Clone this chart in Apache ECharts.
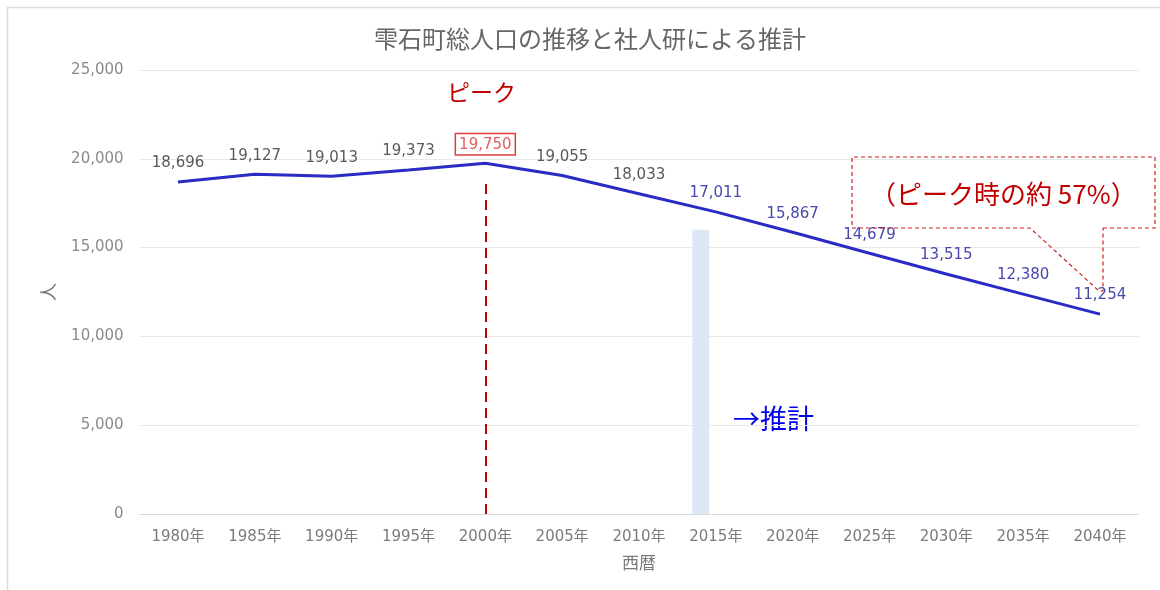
<!DOCTYPE html>
<html>
<head>
<meta charset="utf-8">
<script src="https://cdn.jsdelivr.net/npm/echarts@6/dist/echarts.min.js"></script>
<style>
html,body{margin:0;padding:0;background:#fff;}
#chart{width:1160px;height:590px;}
</style>
</head>
<body>
<div id="chart"></div>
<script>
// ---- data ----
const categories = ['1980年','1985年','1990年','1995年','2000年','2005年','2010年','2015年','2020年','2025年','2030年','2035年','2040年'];
const population = [18696, 19127, 19013, 19373, 19750, 19055, 18033, 17011, 15867, 14679, 13515, 12380, 11254];
const projectionBar = [null, null, null, null, null, null, null, 16000, null, null, null, null, null];
const peakIndex = 4;
const peakLineTop = 18700;
const projectionStart = 7;
const yTicks = { min: 0, max: 25000, interval: 5000 };

const titleText = '雫石町総人口の推移と社人研による推計';
const peakText = 'ピーク';
const projText = '→推計';
const ratioText = '（ピーク時の約 57%）';

const numFont = "'DejaVu Sans', 'Noto Sans CJK JP', sans-serif";
const jpFont = "'Noto Sans CJK JP', sans-serif";

const lineData = population.map((v, i) => {
  const item = { value: v };
  if (i === peakIndex) {
    item.label = {
      color: '#e06060', borderColor: '#e03c3c', borderWidth: 1.5,
      backgroundColor: '#fff', padding: [3, 3, 2, 3], distance: 9
    };
  } else if (i >= projectionStart) {
    item.label = { color: '#4848b0' };
  }
  return item;
});

const chart = echarts.init(document.getElementById('chart'));
chart.setOption({
  animation: false,
  backgroundColor: '#ffffff',
  title: {
    text: titleText, left: 585, top: 22, textAlign: 'center',
    textStyle: { fontFamily: jpFont, fontSize: 24, fontWeight: 'normal', color: '#666666' }
  },
  grid: { left: 139.6, right: 21.6, top: 70, bottom: 76 },
  xAxis: {
    type: 'category', data: categories, boundaryGap: true,
    name: '西暦', nameLocation: 'middle', nameGap: 40,
    nameTextStyle: { fontFamily: jpFont, fontSize: 17, color: '#7a7a7a' },
    axisLine: { lineStyle: { color: '#d9d9d9', width: 1 } },
    axisTick: { show: false },
    axisLabel: { fontFamily: numFont, fontSize: 15, color: '#7a7a7a', margin: 16, interval: 0 }
  },
  yAxis: {
    type: 'value', min: yTicks.min, max: yTicks.max, interval: yTicks.interval,
    name: '人', nameLocation: 'middle', nameGap: 82,
    nameTextStyle: { fontFamily: jpFont, fontSize: 18, color: '#7a7a7a' },
    axisLine: { show: false }, axisTick: { show: false },
    splitLine: { lineStyle: { color: '#e8e8e8', width: 1 } },
    axisLabel: {
      fontFamily: numFont, fontSize: 15, color: '#8a8a8a', margin: 16,
      formatter: v => v.toLocaleString('en-US')
    }
  },
  series: [
    {
      type: 'bar', data: projectionBar, barWidth: 17, barGap: '78%',
      itemStyle: { color: '#dce8f5' }, silent: true, z: 1
    },
    {
      type: 'bar', data: categories.map(() => null), barWidth: 17, silent: true
    },
    {
      type: 'line', data: lineData, symbol: 'circle', symbolSize: 0.1,
      lineStyle: { color: '#2a2ac4', width: 3 },
      itemStyle: { color: '#2a2ac4' },
      z: 5,
      label: {
        show: true, position: 'top', distance: 11,
        fontFamily: numFont, fontSize: 15, color: '#595959',
        formatter: p => p.value.toLocaleString('en-US')
      },
      markLine: {
        silent: true, symbol: 'none', label: { show: false },
        lineStyle: { color: '#c00000', width: 2, type: [10, 6] },
        data: [[
          { coord: [categories[peakIndex], 0] },
          { coord: [categories[peakIndex], peakLineTop] }
        ]]
      }
    }
  ],
  graphic: [
    { type: 'line', shape: { x1: 7, y1: 7.5, x2: 1160, y2: 7.5 }, style: { stroke: '#dcdcdc', lineWidth: 1.5 } },
    { type: 'line', shape: { x1: 7.5, y1: 7, x2: 7.5, y2: 590 }, style: { stroke: '#dcdcdc', lineWidth: 1.5 } },
    { type: 'text', left: 447, top: 81, style: { text: peakText, fontFamily: jpFont, fontSize: 23, fill: '#c00000' } },
    { type: 'text', left: 733, top: 405, style: { text: projText, fontFamily: jpFont, fontSize: 27, fill: '#0000ee' } },
    {
      type: 'polyline', z: 10,
      shape: { points: [[1103,228],[1155,228],[1155,157],[852,157],[852,228],[1030,228],[1099,291],[1103,291],[1103,228]] },
      style: { stroke: '#d02020', lineWidth: 1.2, lineDash: [4, 3], fill: null }
    },
    { type: 'text', x: 870, y: 194, z: 10, style: { text: ratioText, fontFamily: jpFont, fontSize: 26, fill: '#c00000', verticalAlign: 'middle' } }
  ]
});
</script>
</body>
</html>
